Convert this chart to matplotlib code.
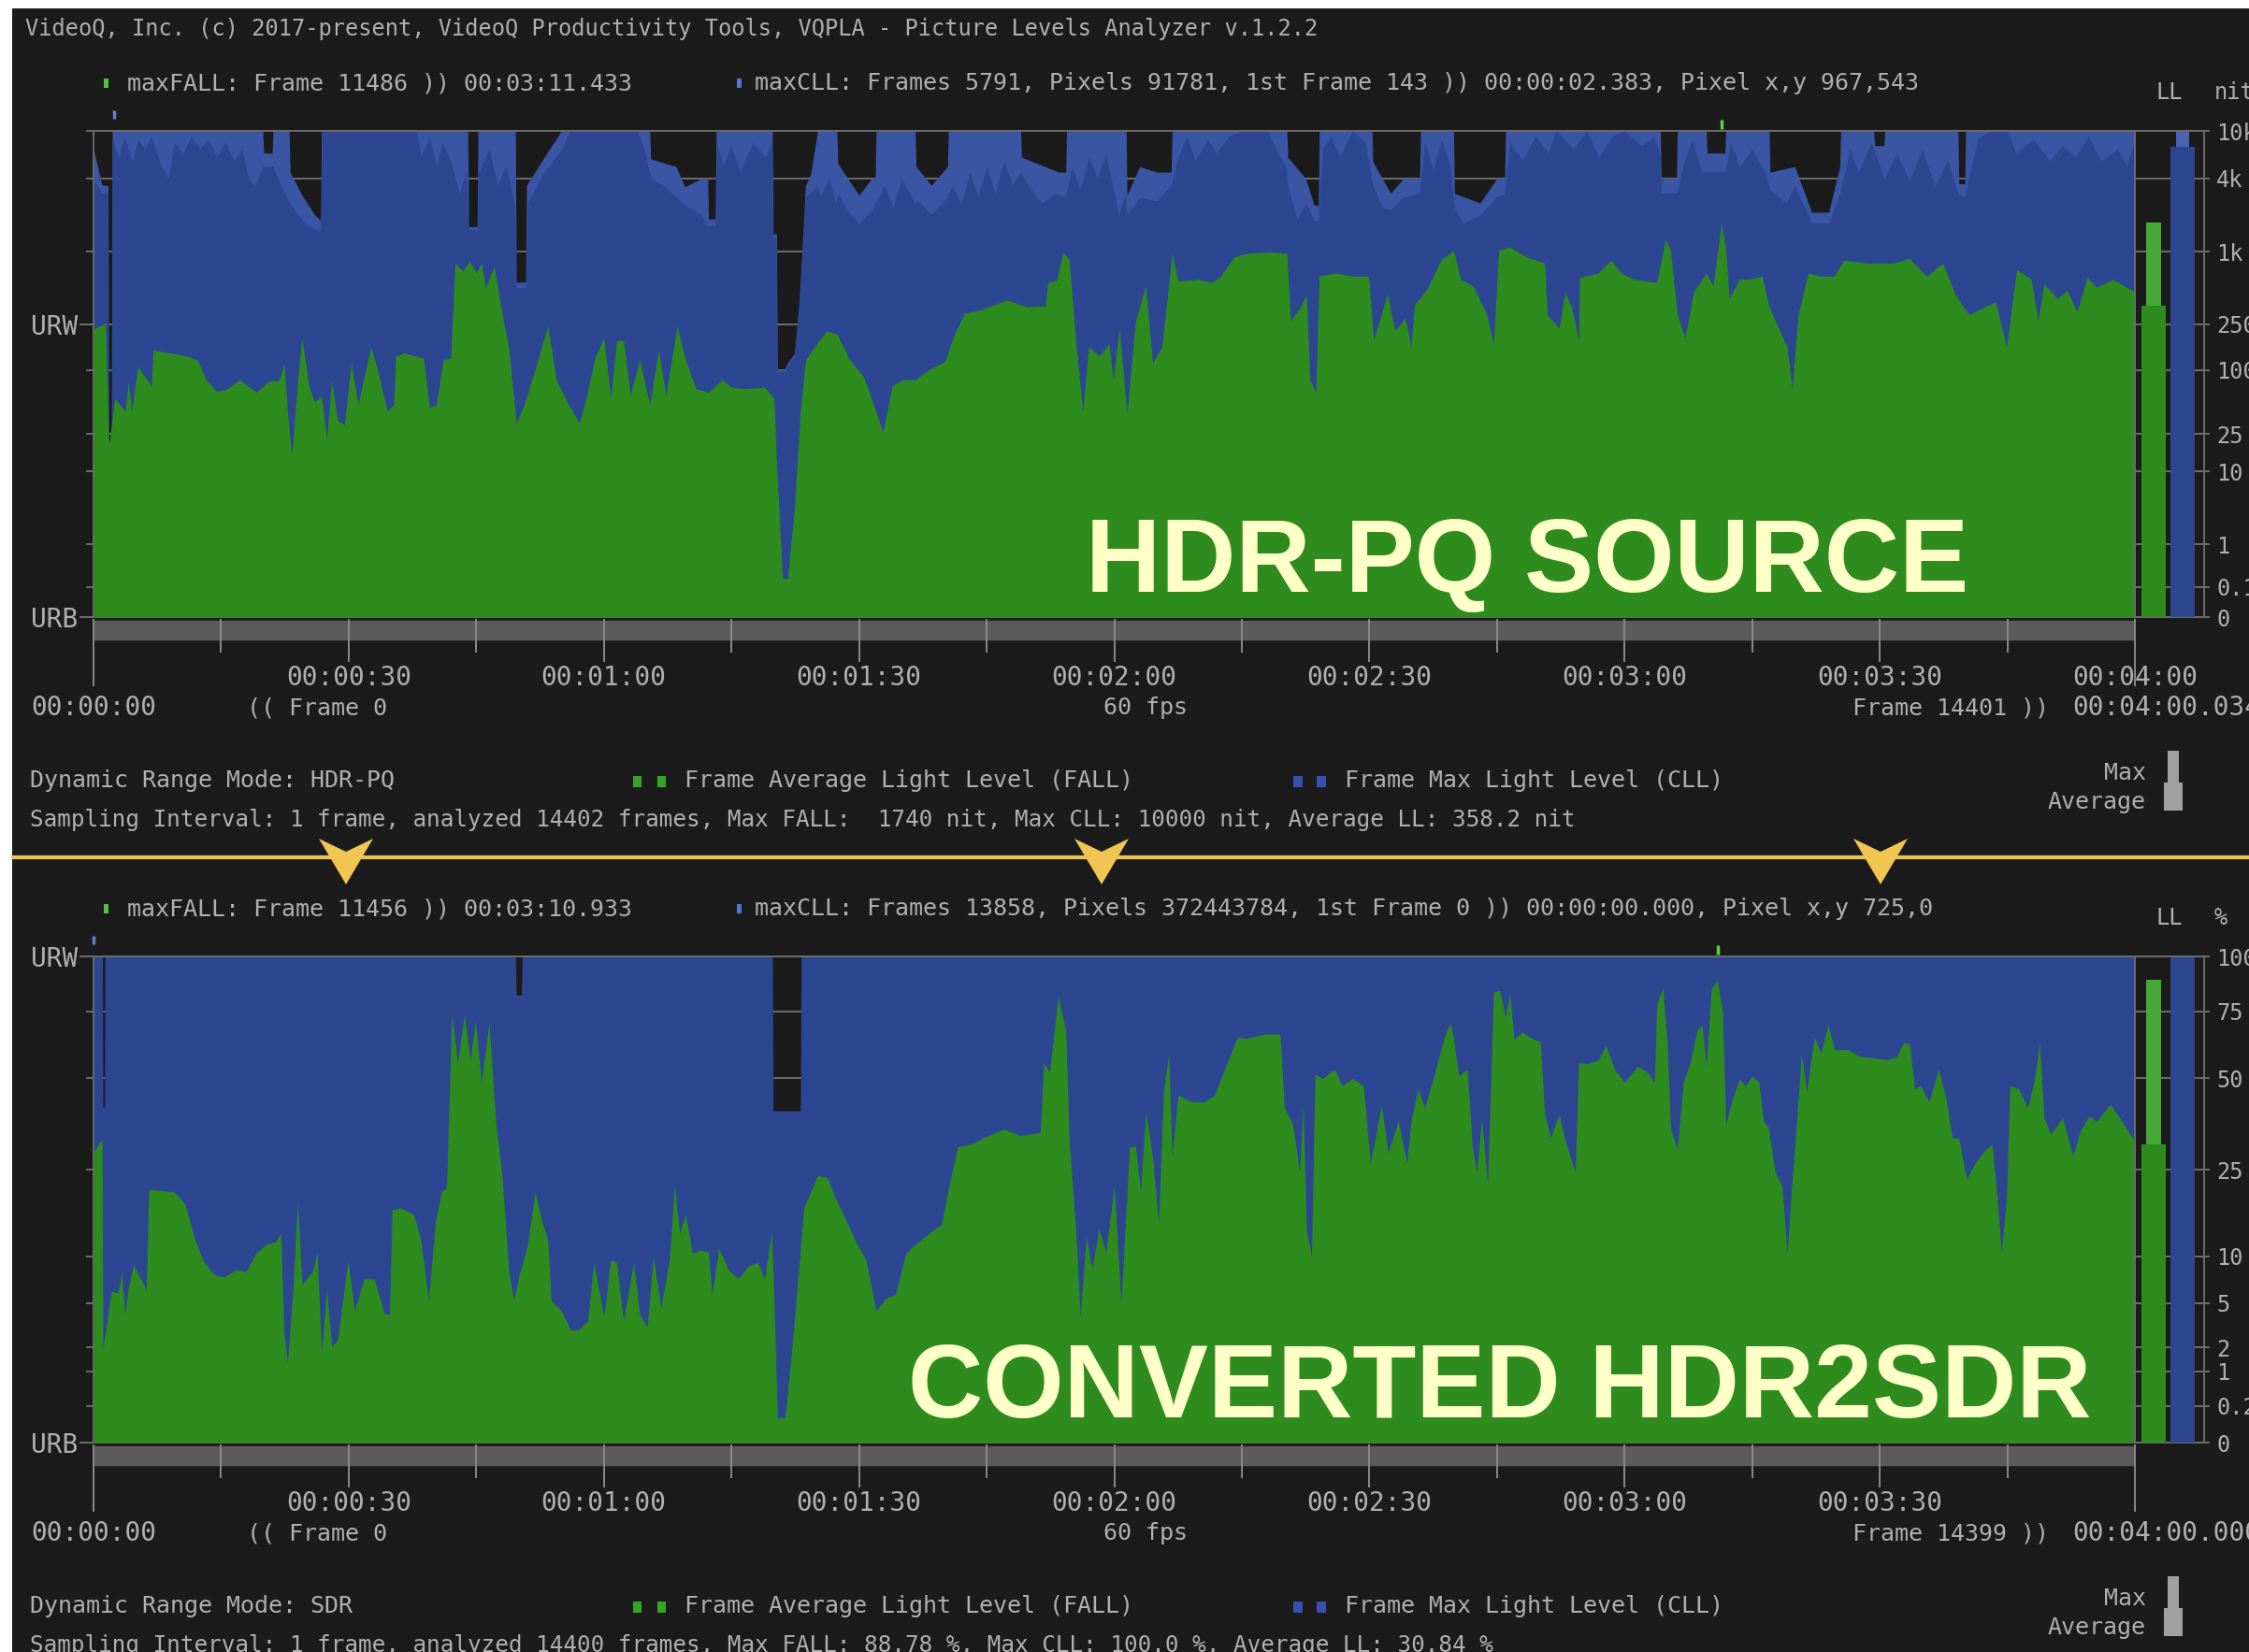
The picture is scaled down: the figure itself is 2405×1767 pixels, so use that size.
import numpy as np
import matplotlib
matplotlib.use("Agg")
import matplotlib.pyplot as plt
from matplotlib.patches import Rectangle, Polygon
from matplotlib.lines import Line2D
from matplotlib.transforms import blended_transform_factory

# ------------------------------------------------------------------ data
# HDR-PQ source: time (s) / Frame Average Light Level (nit)
src_fall_t = [0, 1.4, 1.8, 2.5, 3.7, 4.1, 4.5, 5.2, 6.8, 7.0, 11.0, 12.2, 13.3, 14.5, 15.6, 17.2, 19.1, 20.7,
              21.8, 22.4, 22.8, 23.3, 24.0, 24.5, 25.3, 26.0, 26.8, 27.4, 28.0, 28.7, 29.5, 30.3, 31.1, 32.6,
              33.4, 34.5, 35.3, 35.5, 36.5, 38.8, 39.5, 40.3, 41.1, 42.0, 42.5, 43.4, 44.2, 45.0, 45.6, 46.1,
              47.1, 47.9, 48.8, 49.7, 50.7, 51.9, 53.4, 54.4, 55.7, 57.1, 57.9, 59.0, 60.0, 60.8, 61.5, 62.3,
              63.1, 64.2, 65.4, 66.4, 67.3, 68.6, 69.6, 70.8, 72.3, 73.9, 75.0, 76.6, 78.9, 80.0, 80.3, 81.0,
              81.6, 82.4, 83.1, 83.7, 85.0, 86.2, 87.4, 88.9, 90.5, 91.6, 92.8, 93.9, 95.1, 96.6, 98.2, 100.1,
              101.2, 102.4, 104.3, 107.4, 109.7, 111.9, 112.2, 113.2, 114.0, 114.7, 115.5, 116.3, 117.0, 118.2,
              119.4, 119.9, 120.6, 121.5, 122.5, 123.7, 124.5, 125.6, 126.8, 127.5, 129.9, 131.4, 132.5, 134.1,
              135.6, 138.3, 140.3, 140.7, 141.8, 142.6, 143.0, 143.7, 144.1, 146.0, 148.0, 149.9, 150.5, 152.1,
              153.0, 154.2, 154.9, 155.3, 156.8, 158.4, 159.9, 160.7, 162.2, 163.8, 164.6, 165.2, 166.5, 168.4,
              170.6, 170.9, 172.3, 173.0, 173.8, 174.6, 174.7, 176.9, 178.4, 179.6, 181.1, 183.8, 184.8, 185.4,
              186.2, 187.1, 188.1, 189.6, 190.4, 191.4, 191.9, 192.3, 193.5, 194.6, 196.2, 196.9, 198.1, 199.1,
              199.7, 200.4, 201.6, 203.1, 204.6, 205.8, 208.5, 211.6, 213.5, 215.5, 217.4, 218.9, 220.5, 222.0,
              223.6, 224.9, 226.1, 227.8, 228.6, 229.3, 230.9, 232.0, 233.2, 234.4, 235.5, 237.4, 239.0, 240.0]
src_fall_nit = [226, 256, 19, 55, 42, 78, 42, 108, 72, 150, 133, 123, 80, 64, 67, 82, 63, 80,
                80, 116, 42, 15, 80, 192, 72, 51, 58, 22, 80, 34, 31, 116, 48, 160,
                101, 42, 48, 132, 142, 127, 45, 48, 123, 127, 804, 688, 842, 668, 804, 507,
                754, 340, 160, 32, 51, 101, 241, 82, 51, 32, 55, 132, 192, 55, 181, 181,
                59, 123, 48, 150, 59, 241, 123, 68, 63, 82, 70, 68, 70, 55, 12, 0.18,
                0.18, 3.5, 42, 123, 169, 220, 205, 123, 88, 51, 26, 72, 82, 82, 101, 119,
                205, 309, 330, 398, 350, 355, 556, 580, 993, 850, 169, 42, 160, 133,
                169, 82, 232, 40, 266, 521, 116, 160, 966, 571, 593, 556, 627, 906,
                966, 993, 966, 266, 340, 437, 82, 63, 627, 668, 627, 627, 181, 449,
                220, 281, 160, 363, 493, 850, 1021, 593, 521, 300, 169, 1021, 1090, 906,
                804, 300, 232, 462, 340, 181, 609, 668, 850, 668, 593, 556, 1261, 1021,
                300, 192, 462, 668, 520, 1740, 1021, 410, 593, 593, 627, 363, 232, 160,
                68, 300, 668, 627, 627, 850, 804, 804, 880, 627, 804, 437, 300, 340,
                385, 160, 713, 593, 266, 541, 410, 480, 320, 609, 507, 593, 507, 470]

# HDR-PQ source: time (s) / Frame Max Light Level (nit), per-column maximum
src_cll_t = [0, 1.0, 1.7, 1.8, 2.1, 2.2, 19.9, 20.0, 21.0, 21.1, 23.0, 23.1, 24.5, 26.0, 26.7, 26.8,
             44.0, 44.1, 45.1, 45.2, 49.6, 49.7, 50.8, 50.9, 53.0, 55.0,
             65.4, 65.5, 68.5, 69.5, 71.5, 72.2, 72.3, 73.1, 73.2,
             79.8, 79.9, 80.3, 80.4, 81.2, 81.6, 82.4, 82.9, 83.3, 83.7, 84.3, 85.0, 85.1,
             87.4, 87.5, 90.0, 91.5, 91.9, 92.0, 96.6, 96.7, 98.5, 100.4, 100.5,
             109.0, 109.1, 113.5, 114.3, 114.4, 121.4, 121.5, 123.0, 125.0, 126.7, 126.8,
             140.3, 140.4, 142.5, 143.5, 144.0, 144.1, 150.3, 150.4, 152.5, 154.0, 155.9, 156.0,
             159.9, 160.0, 163.0, 165.0, 165.9, 166.0, 184.2, 184.3, 186.1, 186.2,
             189.6, 189.7, 191.8, 191.9, 197.0, 197.1, 200.0, 202.0, 204.0, 205.3, 205.4,
             209.3, 209.4, 210.5, 210.6, 219.2, 219.3, 220.0, 220.1, 240.0]
src_cll_nit = [7000, 3500, 3500, 20, 20, 10000, 10000, 6500, 6500, 10000, 10000, 4500, 2900, 2000, 1800, 10000,
               10000, 1600, 1600, 10000, 10000, 560, 560, 3500, 6000, 10000,
               10000, 5800, 5000, 3400, 4000, 4000, 1850, 1850, 10000,
               10000, 1400, 1400, 101, 101, 116, 140, 340, 1021, 3460, 4300, 8700, 10000,
               10000, 5300, 2900, 4000, 4000, 10000, 10000, 5000, 3500, 5000, 10000,
               10000, 6000, 4500, 4500, 10000, 10000, 2900, 5000, 4500, 4500, 10000,
               10000, 6000, 4000, 2400, 2400, 10000, 10000, 5500, 3000, 4000, 4000, 10000,
               10000, 3000, 2500, 4000, 4000, 10000, 10000, 4000, 4000, 10000,
               10000, 6500, 6500, 10000, 10000, 4500, 5000, 2100, 2100, 5000, 10000,
               10000, 7500, 7500, 10000, 10000, 3600, 3600, 10000, 10000]

# HDR-PQ source: Frame Max Light Level (nit), per-column minimum (dark blue part)
src_cll_low_t = [0, 1.0, 1.7, 1.8, 2.1, 2.2, 3.0, 3.6, 4.5, 5.3,
                 6.0, 6.8, 8.0, 8.8, 9.5, 10.5, 11.5, 12.5, 13.5, 14.5,
                 15.5, 16.5, 17.5, 18.2, 19.0, 19.9, 21.1, 22.0, 22.9, 23.1,
                 24.5, 26.0, 26.7, 26.9, 38.0, 38.5, 39.5, 40.3, 41.0, 42.0,
                 43.0, 43.8, 44.1, 45.1, 45.3, 46.5, 47.5, 48.5, 49.5, 49.7,
                 50.8, 51.0, 53.0, 55.0, 56.0, 64.0, 65.0, 65.5, 67.0, 68.5,
                 69.5, 71.5, 72.2, 72.3, 73.1, 73.3, 74.0, 75.0, 76.0, 77.5,
                 79.0, 79.8, 79.9, 80.3, 80.4, 81.2, 81.6, 82.4, 82.9, 83.3,
                 83.7, 84.3, 85.0, 85.5, 86.5, 87.3, 87.5, 89.0, 90.0, 91.5,
                 92.0, 93.0, 94.0, 95.0, 96.5, 97.0, 98.5, 100.4, 101.0, 102.0,
                 103.0, 104.0, 105.0, 106.0, 107.0, 108.0, 109.0, 110.0, 111.5, 113.0,
                 114.3, 115.0, 116.0, 117.0, 118.0, 119.0, 120.0, 120.5, 121.3, 121.5,
                 123.0, 125.0, 126.7, 127.5, 128.5, 129.5, 131.0, 132.0, 133.5, 135.0,
                 138.0, 139.0, 140.2, 140.4, 141.5, 142.5, 143.5, 144.0, 144.5, 145.5,
                 146.5, 148.0, 149.5, 150.4, 151.5, 152.5, 154.0, 155.9, 156.5, 157.5,
                 158.5, 159.5, 160.0, 161.0, 163.0, 165.0, 165.9, 166.5, 168.0, 169.5,
                 171.0, 172.0, 174.0, 175.5, 177.0, 178.5, 180.0, 182.0, 183.5, 184.2,
                 184.3, 186.1, 187.0, 188.0, 189.0, 189.7, 191.8, 192.5, 193.5, 195.0,
                 196.5, 197.1, 199.0, 200.0, 202.0, 204.0, 205.3, 206.5, 207.5, 209.0,
                 210.5, 212.0, 213.5, 215.0, 216.5, 218.0, 219.2, 220.0, 221.5, 223.0,
                 225.0, 226.0, 228.0, 230.0, 231.5, 233.0, 234.5, 236.0, 238.0, 239.0,
                 240.0]
src_cll_low_nit = [3900, 3000, 3000, 18, 18, 8500, 6000, 9000, 5600, 8500,
                   7000, 9000, 5000, 4000, 8000, 6500, 9000, 7000, 8500, 6000,
                   8000, 5600, 7000, 4000, 3460, 5000, 5000, 3500, 2600, 2500,
                   1800, 1500, 1500, 10000, 10000, 6000, 9000, 5000, 8000, 5600,
                   3000, 4500, 1500, 1500, 4500, 7000, 3500, 5000, 2500, 500,
                   500, 2500, 4500, 7000, 10000, 10000, 6000, 4000, 3500, 2800,
                   2400, 2000, 1600, 1600, 1600, 8000, 5000, 7500, 4500, 8000,
                   6000, 8000, 1300, 1300, 95, 95, 110, 130, 300, 900,
                   2800, 3000, 3500, 2900, 4000, 2500, 3000, 2000, 1700, 2200,
                   2600, 3500, 2300, 4000, 2500, 2600, 2000, 2800, 3500, 2400,
                   4500, 2800, 5000, 3000, 5600, 3500, 4500, 3400, 2500, 3000,
                   2800, 5000, 3200, 6000, 4000, 6500, 3000, 2000, 3000, 2000,
                   2800, 2600, 3500, 6000, 9000, 5600, 8500, 6500, 9000, 10000,
                   10000, 7000, 5000, 3500, 1800, 2500, 1800, 1800, 7000, 9000,
                   6000, 10000, 8000, 3500, 2300, 2200, 2800, 3000, 8000, 4700,
                   8500, 5000, 2300, 1700, 2000, 2800, 3000, 8000, 5600, 9000,
                   6500, 10000, 7000, 10000, 6000, 9000, 10000, 7500, 9000, 6000,
                   3000, 3000, 5500, 8500, 4500, 4500, 4500, 8000, 5000, 7000,
                   4500, 3200, 2500, 3500, 1700, 1700, 3000, 7000, 4500, 8000,
                   4000, 6500, 3800, 7000, 3460, 5600, 3000, 2800, 8500, 10000,
                   10000, 6500, 8500, 5600, 7500, 6000, 9000, 5600, 7000, 5000,
                   8500]

# Converted SDR: time (s) / Frame Average Light Level (%)
sdr_fall_t = [0, 1.0, 1.1, 2.1, 2.9, 3.3, 3.7, 4.1, 4.7, 6.2, 6.5, 9.5, 10.8, 11.8, 12.9, 14.1, 15.3, 16.8,
              17.9, 19.1, 20.3, 21.4, 22.0, 22.4, 22.8, 23.4, 24.0, 24.5, 25.7, 26.3, 26.8, 27.4, 28.0, 28.7,
              29.9, 30.7, 31.8, 33.0, 34.2, 34.8, 35.1, 36.1, 37.6, 38.4, 39.4, 40.2, 40.9, 41.5, 41.9, 42.1,
              42.8, 43.6, 44.3, 44.9, 45.6, 46.5, 47.3, 48.0, 48.8, 49.4, 50.0, 51.0, 51.9, 52.7, 53.4, 53.8,
              55.0, 56.1, 56.9, 58.1, 58.8, 60.0, 60.8, 61.5, 62.3, 63.5, 64.2, 65.1, 65.8, 66.7, 67.7, 68.3,
              68.9, 69.6, 70.4, 71.2, 72.3, 72.7, 73.5, 74.6, 75.8, 77.0, 78.1, 78.9, 79.7, 80.0, 80.4, 81.3,
              82.1, 82.9, 83.5, 85.1, 86.2, 87.4, 88.5, 89.7, 90.8, 92.0, 93.1, 94.3, 95.5, 96.6, 98.2, 99.7,
              100.5, 101.6, 103.2, 104.7, 107.0, 109.0, 111.3, 111.7, 112.4, 113.4, 114.3, 114.7, 115.5, 116.0,
              116.7, 117.4, 118.2, 119.0, 120.0, 120.8, 121.8, 122.5, 123.1, 123.7, 124.5, 125.2, 125.8, 126.4,
              126.8, 127.5, 129.1, 130.6, 131.8, 132.8, 134.5, 135.6, 137.6, 139.5, 140.0, 141.0, 141.8, 142.2,
              142.6, 143.2, 143.6, 144.5, 145.9, 146.8, 148.0, 149.3, 150.1, 150.8, 151.4, 152.2, 153.4, 154.4,
              154.9, 155.7, 156.5, 157.6, 158.8, 159.5, 159.9, 160.5, 161.5, 162.1, 162.6, 163.2, 163.9, 164.6,
              165.3, 166.0, 166.5, 167.0, 168.0, 169.2, 170.1, 170.6, 171.3, 172.3, 173.0, 174.2, 174.6, 175.7,
              176.9, 177.8, 178.8, 180.0, 181.5, 182.7, 183.5, 183.8, 184.5, 185.0, 185.4, 186.2, 186.9, 187.7,
              188.5, 189.1, 189.6, 190.2, 190.9, 191.5, 191.9, 192.7, 193.5, 194.2, 195.0, 195.8, 196.3, 196.9,
              197.7, 198.5, 199.1, 199.6, 200.2, 200.8, 201.4, 202.3, 203.1, 203.9, 204.7, 206.2, 207.7, 209.3,
              210.8, 212.0, 212.8, 213.5, 214.1, 214.8, 215.8, 216.9, 217.8, 218.5, 219.3, 220.2, 221.2, 222.4,
              223.2, 223.8, 224.3, 224.9, 225.3, 226.3, 227.4, 228.2, 228.8, 229.3, 230.1, 231.5, 232.7, 233.6,
              234.6, 235.5, 236.3, 237.1, 238.2, 239.4, 240.0]
sdr_fall_pct = [28.8, 32.4, 1.9, 6.1, 5.9, 8.1, 4.1, 6.5, 8.9, 6.2, 20.9, 20.4, 18.0, 12.7, 9.4, 7.9, 7.5, 8.4,
                8.1, 10.4, 11.6, 12.0, 13.2, 2.8, 1.3, 5.7, 18.6, 6.7, 8.1, 10.4, 1.65, 6.35, 2.05, 2.4,
                9.4, 4.35, 7.35, 7.35, 4.1, 4.1, 17.1, 17.4, 16.3, 12.7, 5.3, 15.2, 20.4, 21.3, 50.8, 74.2,
                55.3, 73.6, 56.3, 71.0, 48.7, 70.4, 36.2, 24.4, 8.4, 5.2, 7.7, 11.3, 20.4, 15.2, 12.3, 5.2,
                4.35, 2.97, 2.97, 3.6, 9.2, 3.9, 9.6, 9.2, 3.6, 9.2, 4.1, 3.2, 10.0, 4.6, 9.6, 21.7,
                13.2, 16.3, 10.4, 10.8, 10.6, 5.7, 11.1, 8.4, 7.35, 8.85, 9.2, 7.35, 13.6, 5.2, 0.08, 0.08,
                1.9, 8.4, 17.4, 23.7, 23.4, 18.6, 15.2, 11.8, 9.6, 4.35, 5.4, 5.8, 10.4, 11.6, 13.2, 14.7,
                21.1, 30.4, 31.0, 32.7, 34.9, 33.2, 34.0, 55.3, 52.0, 81.2, 67.1, 32.0, 13.2, 3.9,
                12.7, 8.4, 14.0, 10.4, 21.7, 4.9, 30.4, 30.4, 20.4, 39.8, 28.1, 14.7, 45.6, 58.7,
                28.1, 44.7, 42.6, 42.6, 44.7, 51.9, 64.7, 64.2, 65.8, 65.8, 40.8, 36.2, 24.4, 41.8,
                13.6, 10.0, 51.4, 50.0, 53.1, 47.6, 50.0, 47.6, 26.5, 33.6, 41.8, 28.8, 37.2, 26.5,
                37.0, 46.7, 40.8, 50.8, 64.7, 70.4, 64.0, 50.8, 53.1, 30.4, 24.4, 38.0, 21.7, 83.4,
                84.0, 72.4, 83.0, 64.0, 66.6, 64.0, 63.0, 38.9, 32.7, 38.9, 32.0, 24.4, 55.3, 55.0,
                56.3, 61.6, 53.1, 48.7, 54.1, 52.0, 48.7, 78.3, 85.3, 62.3, 35.3, 29.6, 48.7, 55.3,
                67.1, 69.5, 54.1, 84.7, 88.78, 75.0, 36.2, 43.7, 49.8, 47.6, 50.8, 48.7, 37.2, 35.3,
                24.4, 21.7, 10.4, 20.4, 36.2, 58.7, 45.6, 64.7, 58.7, 69.6, 60.0, 60.0, 57.5, 57.0,
                56.3, 57.5, 62.8, 62.0, 46.7, 47.6, 42.6, 53.1, 43.7, 32.7, 32.4, 23.0, 26.5, 29.6,
                31.0, 19.2, 10.4, 19.2, 47.6, 46.7, 40.8, 49.8, 62.8, 38.0, 33.6, 38.0, 28.1, 34.5,
                38.5, 37.0, 39.5, 41.8, 38.0, 33.6, 32.0]

# Converted SDR: time (s) / Frame Max Light Level (%)
sdr_cll_t = [0, 1.05, 1.1, 1.3, 1.35, 49.6, 49.7, 50.3, 50.4, 79.8, 79.9, 83.1, 83.2, 240.0]
sdr_cll_pct = [100, 100, 41, 41, 100, 100, 82, 82, 100, 100, 40, 40, 100, 100]

# axis ticks
src_ticks = [10000, 4000, 1000, 250, 100, 25, 10, 1, 0.1, 0]
src_tick_labels = ['10k', '4k', '1k', '250', '100', '25', '10', '1', '0.1', '0']
sdr_ticks = [100, 75, 50, 25, 10, 5, 2, 1, 0.2, 0]
sdr_tick_labels = ['100', '75', '50', '25', '10', '5', '2', '1', '0.2', '0']
time_major = [0, 30, 60, 90, 120, 150, 180, 210, 240]
time_minor = [15, 45, 75, 105, 135, 165, 195, 225]

# summary levels (LL bars)
src_levels = dict(max_fall=1740, avg_ll=358.2, max_cll=10000, avg_cll=7300)
sdr_levels = dict(max_fall=88.78, avg_ll=30.84, max_cll=100.0, avg_cll=99.6)
src_maxfall_time, src_maxcll_time = 191.433, 2.383
sdr_maxfall_time, sdr_maxcll_time = 190.933, 0.0

# ------------------------------------------------------------------ scales
m1 = 2610 / 16384
m2 = 2523 / 4096 * 128
c1 = 3424 / 4096
c2 = 2413 / 4096 * 32
c3 = 2392 / 4096 * 32


def pq_fwd(v):
    y = np.clip(np.asarray(v, dtype=float) / 10000.0, 0, None)
    ym = y ** m1
    return ((c1 + c2 * ym) / (1 + c3 * ym)) ** m2


def pq_inv(e):
    e = np.clip(np.asarray(e, dtype=float), 0, 1)
    ep = e ** (1 / m2)
    num = np.clip(ep - c1, 0, None)
    den = c2 - c3 * ep
    return 10000.0 * (num / den) ** (1 / m1)


def g_fwd(v):
    return np.clip(np.asarray(v, dtype=float) / 100.0, 0, None) ** (1 / 2.4)


def g_inv(e):
    return 100.0 * np.clip(np.asarray(e, dtype=float), 0, None) ** 2.4


# ------------------------------------------------------------------ style
W, H, DPI = 2405, 1767, 100
BG = '#1b1b1b'
GREEN = '#2e8c1f'
LGREEN = '#45aa35'
BLUE = '#2c4692'
LBLUE = '#3a55a4'
LBLUE_BAR = '#4a64b4'
GRID = '#6c6c6c'
TXT = '#b0b0b0'
TICKC = '#8a8a8a'
BARC = '#5b5b5b'
YEL = '#f0c552'
TITLE = '#ffffc8'
MONO = 'DejaVu Sans Mono'

fig = plt.figure(figsize=(W / DPI, H / DPI), dpi=DPI, facecolor='white')
fig.patches.append(Rectangle((13 / W, 0), 1, 1 - 9 / H, transform=fig.transFigure,
                             facecolor=BG, edgecolor='none', zorder=-10))


def axes_px(x0, y0, x1, y1):
    return fig.add_axes([x0 / W, 1 - y1 / H, (x1 - x0) / W, (y1 - y0) / H])


def ftext(x, y, s, size=17.5, ha='left', va='center', color=TXT, **kw):
    fig.text(x / W, 1 - y / H, s, ha=ha, va=va, color=color, fontsize=size, family=MONO, **kw)


def frect(x, y, w, h, color):
    fig.patches.append(Rectangle((x / W, 1 - (y + h) / H), w / W, h / H, transform=fig.transFigure,
                                 facecolor=color, edgecolor='none', zorder=5))


def hms(t):
    return "00:%02d:%02d" % (t // 60, t % 60)


def panel(off, fall_t, fall_v, cll_t, cll_v, low_t, low_v, fwd, inv, ymax, ticks, labels, urw, levels,
          maxfall_t, maxcll_t, title, title_x, texts, show_end_label):
    # main plot
    ax = axes_px(100, 140 + off, 2283, 660 + off)
    ax.set_facecolor(BG)
    ax.set_yscale('function', functions=(fwd, inv))
    ax.set_ylim(0, ymax)
    ax.set_xlim(0, 240)
    if low_t is not None:
        light = ax.fill_between(cll_t, 0, cll_v, color=LBLUE, lw=0, zorder=2)
        dark = ax.fill_between(low_t, 0, low_v, color=BLUE, lw=0, zorder=2.5)
        dark.set_clip_path(light.get_paths()[0], ax.transData)
    else:
        ax.fill_between(cll_t, 0, cll_v, color=BLUE, lw=0, zorder=2)
    ax.fill_between(fall_t, 0, fall_v, color=GREEN, lw=0, zorder=3)
    ax.set_yticks(ticks)
    ax.set_yticklabels([])
    ax.set_yticks([urw, 0], minor=True)
    ax.set_yticklabels(['URW', 'URB'], minor=True)
    ax.yaxis.remove_overlapping_locs = False
    ax.yaxis.grid(True, which='major', color=GRID, lw=1.4)
    ax.set_axisbelow(True)
    ax.tick_params(axis='y', which='major', direction='out', length=6, width=1.4, color=GRID)
    ax.tick_params(axis='y', which='minor', direction='out', length=11, width=1.4, color=GRID,
                   labelcolor=TXT, labelsize=20, pad=1)
    for lab in ax.get_yticklabels(minor=True):
        lab.set_family(MONO)
    ax.set_xticks([])
    for sp in ax.spines.values():
        sp.set_color(GRID)
        sp.set_linewidth(1.4)
    tr = blended_transform_factory(ax.transData, ax.transAxes)
    ax.plot([maxfall_t, maxfall_t], [1.004, 1.023], transform=tr, color='#5ccf4a', lw=2.5,
            clip_on=False, solid_capstyle='butt')
    ax.plot([maxcll_t, maxcll_t], [1.025, 1.042], transform=tr, color='#5b7fd6', lw=2.5,
            clip_on=False, solid_capstyle='butt')
    ax.text(title_x, 0.052, title, transform=ax.transAxes, fontsize=80, fontweight='bold',
            family='Liberation Sans', color=TITLE, va='baseline', ha='left', zorder=10)

    # LL panel
    ll = axes_px(2283, 140 + off, 2357, 660 + off)
    ll.set_facecolor(BG)
    ll.set_yscale('function', functions=(fwd, inv))
    ll.set_ylim(0, ymax)
    ll.set_xlim(0, 74)
    ll.bar(20, levels['max_fall'], width=16, color=LGREEN, zorder=2)
    ll.bar(20, levels['avg_ll'], width=26, color=GREEN, zorder=3)
    ll.bar(51, levels['max_cll'], width=14, color=LBLUE_BAR, zorder=2)
    ll.bar(51, levels['avg_cll'], width=26, color=BLUE, zorder=3)
    ll.set_yticks(ticks)
    ll.set_yticklabels(labels)
    ll.yaxis.tick_right()
    ll.yaxis.grid(True, color=GRID, lw=1.4)
    ll.set_axisbelow(True)
    ll.tick_params(axis='y', direction='inout', length=9, width=1.4, color=GRID,
                   labelcolor=TXT, labelsize=17, pad=5)
    for lab in ll.get_yticklabels():
        lab.set_family(MONO)
    ll.set_xticks([])
    for sp in ll.spines.values():
        sp.set_color(GRID)
        sp.set_linewidth(1.4)

    # timeline
    tl = axes_px(100, 660 + off, 2283, 800 + off)
    tl.set_xlim(0, 240)
    tl.set_ylim(140, 0)
    tl.axis('off')
    tl.axhspan(4, 24, color=BARC, zorder=1)
    tl.vlines(time_minor, 2, 38, color=TICKC, lw=1.4, zorder=2)
    tl.vlines(time_major[1:-1], 2, 48, color=TICKC, lw=1.4, zorder=2)
    tl.vlines([time_major[0], time_major[-1]], 2, 74, color=TICKC, lw=1.4, zorder=2, clip_on=False)
    tick_lab = time_major[1:] if show_end_label else time_major[1:-1]
    for t in tick_lab:
        tl.text(t, 65, hms(t), ha='center', va='center', fontsize=20, family=MONO, color=TXT)
    tl.text(0, 97, hms(0), ha='center', va='center', fontsize=20, family=MONO, color=TXT, clip_on=False)

    # text rows
    ftext(136, 89 + off, texts['maxfall'], size=18)
    frect(111, 84 + off, 5, 10, '#4fc23e')
    ftext(807, 89 + off, texts['maxcll'], size=18)
    frect(788, 84 + off, 5, 10, '#5577cc')
    ftext(2320, 99 + off, 'LL', size=17, ha='center')
    ftext(2368, 99 + off, texts['unit'], size=17)
    ftext(264, 757 + off, '(( Frame 0', size=18)
    ftext(1180, 757 + off, '60 fps', size=18)
    ftext(2191, 757 + off, texts['lastframe'], size=18, ha='right')
    ftext(2216, 757 + off, texts['endtime'], size=20)
    ftext(32, 835 + off, texts['mode'], size=18)
    frect(677, 830 + off, 9.5, 12, '#35a528')
    frect(703, 830 + off, 9.5, 12, '#35a528')
    ftext(732, 835 + off, 'Frame Average Light Level (FALL)', size=18)
    frect(1383, 830 + off, 9.5, 12, '#3552b0')
    frect(1408, 830 + off, 9.5, 12, '#3552b0')
    ftext(1438, 835 + off, 'Frame Max Light Level (CLL)', size=18)
    ftext(32, 877 + off, texts['sampling'], size=17.5)
    ftext(2295, 827 + off, 'Max', size=18, ha='right')
    ftext(2295, 858 + off, 'Average', size=18, ha='right')
    frect(2318, 803 + off, 12, 35, '#a0a0a0')
    frect(2314, 837 + off, 20, 30, '#a0a0a0')


ftext(27, 31, 'VideoQ, Inc. (c) 2017-present, VideoQ Productivity Tools, VQPLA - Picture Levels Analyzer v.1.2.2',
      size=17)

panel(0, src_fall_t, src_fall_nit, src_cll_t, src_cll_nit, src_cll_low_t, src_cll_low_nit,
      pq_fwd, pq_inv, 10000,
      src_ticks, src_tick_labels, 250, src_levels, src_maxfall_time, src_maxcll_time,
      'HDR-PQ SOURCE', 0.486,
      dict(maxfall='maxFALL: Frame 11486 )) 00:03:11.433',
           maxcll='maxCLL: Frames 5791, Pixels 91781, 1st Frame 143 )) 00:00:02.383, Pixel x,y 967,543',
           unit='nit', lastframe='Frame 14401 ))', endtime='00:04:00.034',
           mode='Dynamic Range Mode: HDR-PQ',
           sampling='Sampling Interval: 1 frame, analyzed 14402 frames, Max FALL:  1740 nit, '
                    'Max CLL: 10000 nit, Average LL: 358.2 nit'),
      True)

panel(883, sdr_fall_t, sdr_fall_pct, sdr_cll_t, sdr_cll_pct, None, None,
      g_fwd, g_inv, 100,
      sdr_ticks, sdr_tick_labels, 100, sdr_levels, sdr_maxfall_time, sdr_maxcll_time,
      'CONVERTED HDR2SDR', 0.399,
      dict(maxfall='maxFALL: Frame 11456 )) 00:03:10.933',
           maxcll='maxCLL: Frames 13858, Pixels 372443784, 1st Frame 0 )) 00:00:00.000, Pixel x,y 725,0',
           unit='%', lastframe='Frame 14399 ))', endtime='00:04:00.000',
           mode='Dynamic Range Mode: SDR',
           sampling='Sampling Interval: 1 frame, analyzed 14400 frames, Max FALL: 88.78 %, '
                    'Max CLL: 100.0 %, Average LL: 30.84 %'),
      False)

# separator with arrowheads
fig.add_artist(Line2D([14 / W, 1], [1 - 917 / H] * 2, color=YEL, lw=3, transform=fig.transFigure))
for cx in [370, 1178, 2011]:
    pts = [(cx - 29, 897), (cx, 911), (cx + 29, 897), (cx, 946)]
    fig.patches.append(Polygon([(x / W, 1 - y / H) for x, y in pts], closed=True,
                               transform=fig.transFigure, facecolor=YEL, edgecolor='none', zorder=6))

fig.savefig('out.png', dpi=DPI, facecolor=fig.get_facecolor())
